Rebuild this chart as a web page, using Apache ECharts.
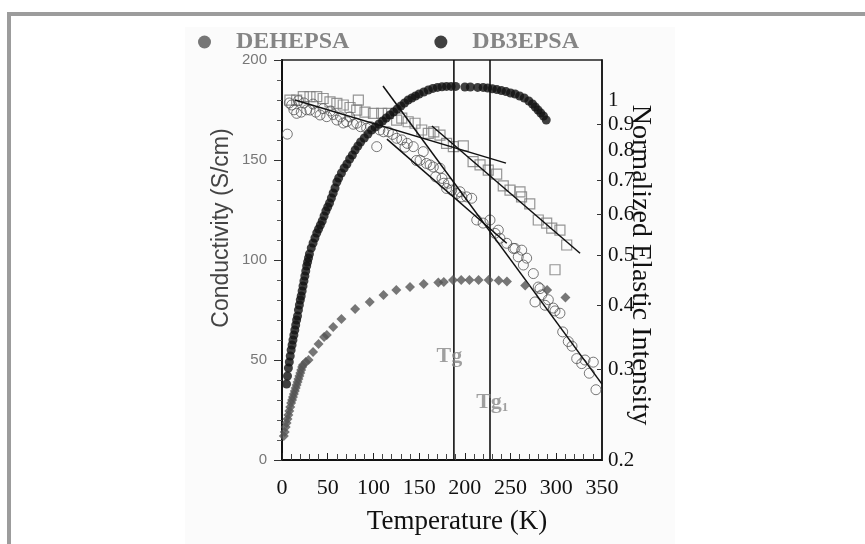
<!DOCTYPE html>
<html><head><meta charset="utf-8">
<script src="https://cdn.jsdelivr.net/npm/echarts@6/dist/echarts.min.js"></script>
<style>html,body{margin:0;padding:0;background:#fff}#c{width:865px;height:544px}</style>
</head><body><div id="c"></div>
<script>
// ---- data ----
const xTickValues = [0, 50, 100, 150, 200, 250, 300, 350];
const rightLabelValues = [0.2, 0.3, 0.4, 0.5, 0.6, 0.7, 0.8, 0.9, 1];
const rightTickValues = [0.3, 0.4, 0.5, 0.6, 0.7, 0.9];

// DB3EPSA conductivity (S/cm)
const db3T = [5,6,7,8,9,10,11,12,13,14,15,16,17,18,19,20,21,22,23,24,25,26,27,28,29,30,32,34,36,38,40,42,44,46,48,50,52,54,56,58,60,62,65,68,71,74,77,80,83,86,90,94,98,102,106,110,114,118,122,126,130,134,138,142,146,150,155,160,165,170,175,180,185,190,200,206,214,220,225,230,235,240,245,250,255,260,265,270,274,277,280,283,286,289];
const db3C = [38,42,46,49,52,55,57.5,60,62.5,65,67.5,70,72,75,77.5,80,82,84.5,87,89.5,92,94.5,97,99,101,103,106,108.5,111,113.5,115.5,117.5,119.5,122,124.5,126.5,128.5,131,133.5,136,139,141,143.5,146,148,150.5,152.5,155,157,159,161,163,165,166.5,168,169.5,171,172.5,174,175.5,177,178.5,180,181,182,183,184,185,185.8,186.3,186.6,186.8,186.8,186.8,186.5,186.5,186.3,186.3,186,185.6,185.2,184.7,184.2,183.5,183,182,181,179.5,178,176.5,175,173.5,172,170];

// DEHEPSA conductivity (S/cm)
const dehT = [2,3,4,5,6,7,8,9,10,11,12,13,14,15,16,17,18,19,20,21,22,23,26,29,34,40,46,49,56,65,80,96,111,125,140,155,171,177,187,196,205,215,226,237,246,266,290,310];
const dehC = [12,14,16.5,18.5,20.5,22.5,24.5,26.5,28.5,30,31.5,33,34.5,36,37.5,39,40.5,42,43.5,45,46.5,47.5,49,50,54,58,61.5,62.5,66.5,70.5,75.5,79,82.5,85,86.5,88,88.8,89,90,90,90,90,90,89.7,89.2,87.2,85,81.3];

// Normalized elastic intensity, open squares
const sqT = [8.7,16,23.3,30.6,38,45,52.5,60,67,74.4,81.7,83.5,90.8,100,109,116.3,125.4,131,138,145.5,152.8,160,166,172.8,180,187.4,198.3,209,216.6,225.6,234.8,242,249.4,260.3,262,271,280.3,289.5,295,304,311.4,298.6];
const sqI = [1.003,1.003,1.018,1.018,1.018,1.01,0.995,0.988,0.981,0.97,0.959,1.003,0.95,0.945,0.945,0.945,0.917,0.925,0.91,0.904,0.877,0.864,0.87,0.857,0.826,0.814,0.817,0.761,0.75,0.733,0.72,0.683,0.67,0.665,0.65,0.63,0.586,0.578,0.565,0.56,0.524,0.469];

// Normalized elastic intensity, open circles
const ciT = [5.8,8,10.6,13,16,18,21,24,27,30.6,34,37,41.6,45,48.9,53,56,60,64,67,70.8,74,78,81.7,86,92.6,97,103.6,107,111,116.3,121,125.4,131,134.5,137,143.6,147,151,154.5,158,162,165.5,168,172.8,175,177,180,182,185.6,191,194.7,196.5,202,207.5,213,220,227.5,233,236.6,238.4,245.8,253,254.8,258.4,262.2,264,267.6,274.9,276.7,280.3,282.2,284,287.7,291.3,296.7,298.6,304,307,313.1,317.2,322.3,327.8,331.4,336.1,340.5,343.4];
const ciI = [0.861,0.99,0.981,0.96,0.945,1.0,0.95,0.99,0.96,0.959,0.985,0.95,0.938,0.965,0.931,0.955,0.94,0.917,0.93,0.905,0.91,0.93,0.9,0.904,0.89,0.884,0.89,0.814,0.877,0.87,0.87,0.86,0.845,0.839,0.812,0.826,0.814,0.765,0.766,0.796,0.755,0.75,0.743,0.711,0.739,0.706,0.691,0.675,0.691,0.67,0.66,0.665,0.65,0.65,0.646,0.586,0.578,0.586,0.552,0.56,0.54,0.528,0.516,0.516,0.497,0.512,0.479,0.494,0.461,0.406,0.434,0.431,0.419,0.4,0.41,0.395,0.39,0.386,0.355,0.34,0.333,0.315,0.308,0.313,0.295,0.31,0.274];

// fitted straight lines (end points, T and intensity)
const fitSquaresLowT = [14.2, 245];   const fitSquaresLowI = [1.003, 0.756];
const fitSquaresHighT = [164, 326];   const fitSquaresHighI = [0.893, 0.505];
const fitCirclesHighT = [110.5, 350]; const fitCirclesHighI = [1.068, 0.281];
const fitCirclesLowT = [114.8, 245.8];const fitCirclesLowI = [0.842, 0.528];

// glass transition temperatures (K)
const tgNames = ['Tg', 'Tg1'];
const tgValues = [188, 227.5];
const tgLabelPos = [[183, 52], [230, 29]];

const zip = (a, b) => a.map((v, i) => [v, b[i]]);
const serif = 'Liberation Serif, Times New Roman, serif';
const sans = 'Liberation Sans, Arial, sans-serif';

const fitLine = (name, T, I) => ({
  name, type: 'line', yAxisIndex: 1, data: zip(T, I), symbol: 'none',
  lineStyle: { color: '#111', width: 1.5 }, z: 3, silent: true
});

const chart = echarts.init(document.getElementById('c'), null, { renderer: 'canvas' });
chart.setOption({
  animation: false,
  backgroundColor: '#fff',
  graphic: [
    { type: 'rect', shape: { x: 185, y: 27, width: 490, height: 520 }, style: { fill: '#fbfbfb' }, z: -10, silent: true },
    { type: 'rect', shape: { x: 9, y: 14, width: 870, height: 540 }, style: { fill: 'none', stroke: '#9c9c9c', lineWidth: 4 }, z: -9, silent: true },
    { type: 'text', x: 222, y: 228, rotation: Math.PI / 2, silent: true,
      style: { text: 'Conductivity (S/cm)', font: '23px ' + sans, fill: '#444', align: 'center', verticalAlign: 'middle' } },
    { type: 'text', x: 640, y: 265, rotation: -Math.PI / 2, silent: true,
      style: { text: 'Normalized Elastic Intensity', font: '28px ' + serif, fill: '#111', align: 'center', verticalAlign: 'middle' } },
    { type: 'text', x: 457, y: 522, silent: true,
      style: { text: 'Temperature (K)', font: '27px ' + serif, fill: '#111', align: 'center', verticalAlign: 'middle' } }
  ],
  legend: {
    left: 193, top: 25, itemWidth: 13, itemHeight: 13, itemGap: 85,
    data: [
      { name: 'DEHEPSA', icon: 'circle', itemStyle: { color: '#555' } },
      { name: 'DB3EPSA', icon: 'circle', itemStyle: { color: '#111' } }
    ],
    textStyle: { color: '#858585', fontFamily: serif, fontWeight: 'bold', fontSize: 24, padding: [0, 0, 0, 20] },
    selectedMode: false
  },
  grid: { left: 282, top: 60, width: 320, height: 400, show: true, borderColor: '#222', borderWidth: 1.5, backgroundColor: 'transparent' },
  xAxis: {
    type: 'value', min: 0, max: 350, interval: 50,
    axisLine: { show: true, onZero: false, lineStyle: { color: '#111', width: 2 } },
    axisTick: { show: true, inside: true, length: 7, lineStyle: { color: '#222' } },
    minorTick: { show: true, splitNumber: 5, length: 6, lineStyle: { color: '#444' } },
    axisLabel: { color: '#111', fontFamily: serif, fontSize: 22, margin: 17, customValues: xTickValues },
    splitLine: { show: false }, minorSplitLine: { show: false }
  },
  yAxis: [
    {
      type: 'value', min: 0, max: 200, interval: 50, position: 'left',
      axisLine: { show: true, onZero: false, lineStyle: { color: '#111', width: 2 } },
      axisTick: { show: true, length: 8, lineStyle: { color: '#333' } },
      minorTick: { show: true, splitNumber: 5, length: 5, lineStyle: { color: '#555' } },
      axisLabel: { color: '#777', fontFamily: sans, fontSize: 15, margin: 15 },
      splitLine: { show: false }, minorSplitLine: { show: false }
    },
    {
      type: 'log', logBase: 10, min: 0.2, max: 1.2, position: 'right',
      axisLine: { show: true, onZero: false, lineStyle: { color: '#111', width: 1.5 } },
      axisTick: { show: true, inside: true, length: 5, customValues: rightTickValues, lineStyle: { color: '#333' } },
      axisLabel: { color: '#111', fontFamily: serif, fontSize: 21, margin: 6, customValues: rightLabelValues,
        formatter: v => String(parseFloat(Number(v).toFixed(2))) },
      splitLine: { show: false }, minorTick: { show: false }
    }
  ],
  series: [
    { name: 'squares', type: 'scatter', yAxisIndex: 1, data: zip(sqT, sqI), symbol: 'rect', symbolSize: 10,
      itemStyle: { color: 'rgba(0,0,0,0)', borderColor: '#7c7c7c', borderWidth: 1.2 }, z: 2, silent: true },
    { name: 'circles', type: 'scatter', yAxisIndex: 1, data: zip(ciT, ciI), symbol: 'circle', symbolSize: 10,
      itemStyle: { color: 'rgba(0,0,0,0)', borderColor: '#555', borderWidth: 1 }, z: 2, silent: true },
    fitLine('fitSquaresLow', fitSquaresLowT, fitSquaresLowI),
    fitLine('fitSquaresHigh', fitSquaresHighT, fitSquaresHighI),
    fitLine('fitCirclesHigh', fitCirclesHighT, fitCirclesHighI),
    fitLine('fitCirclesLow', fitCirclesLowT, fitCirclesLowI),
    ...tgValues.map((t, i) => ({
      name: tgNames[i] + 'line', type: 'line', yAxisIndex: 0, data: [[t, 0], [t, 200]], symbol: 'none',
      lineStyle: { color: '#111', width: 1.6 }, z: 3, silent: true
    })),
    { name: 'DEHEPSA', type: 'scatter', yAxisIndex: 0, data: zip(dehT, dehC), symbol: 'diamond', symbolSize: 10,
      itemStyle: { color: '#555' }, z: 4, silent: true },
    { name: 'DB3EPSA', type: 'scatter', yAxisIndex: 0, data: zip(db3T, db3C), symbol: 'circle', symbolSize: 9,
      itemStyle: { color: '#111' }, z: 5, silent: true },
    { name: 'tgLabels', type: 'scatter', yAxisIndex: 0, symbolSize: 0, silent: true, z: 6,
      data: tgLabelPos.map((p, i) => ({ value: p, name: tgNames[i] })),
      label: { show: true, position: 'inside',
        formatter: p => p.name === 'Tg1' ? '{m|Tg}{s|1}' : '{m|Tg}',
        rich: {
          m: { fontFamily: serif, fontWeight: 'bold', fontSize: 22, color: '#888' },
          s: { fontFamily: serif, fontWeight: 'bold', fontSize: 13, color: '#888', padding: [12, 0, 0, 0] }
        } } }
  ]
});
</script></body></html>
